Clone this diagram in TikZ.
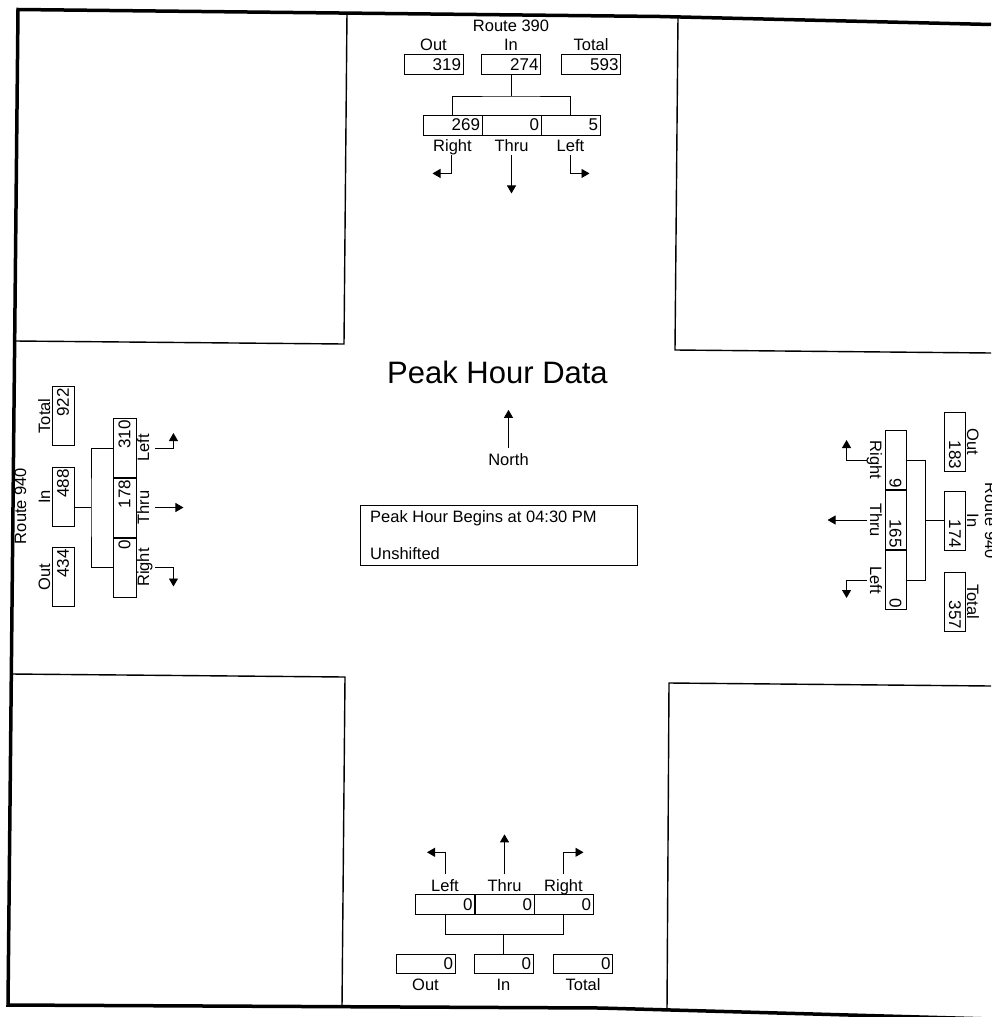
\documentclass[tikz,border=0pt]{standalone}
\usepackage{fontspec}
\setmainfont{Liberation Sans}
\usetikzlibrary{arrows.meta}
\tikzset{
  lbl/.style={inner sep=0pt, font=\fontsize{16.5}{18}\selectfont},
  valbox/.style={draw, line width=0.9pt, minimum height=20pt, text width=55pt, inner xsep=2pt, inner ysep=0pt, align=right, font=\fontsize{17}{18}\selectfont},
  conn/.style={line width=0.9pt},
  arr/.style={line width=0.9pt, -{Triangle[length=8pt,width=9pt]}},
  quad/.style={line width=1.4pt},
  frameline/.style={line width=3.5pt, line join=miter},
}
\begin{document}
\begin{tikzpicture}[x=1pt,y=-1pt]
\useasboundingbox (0,0) rectangle (991,1017);
\fill[white] (0,0) rectangle (991,1017);
\clip (0,0) rectangle (991,1017);

% outer frame
\draw[frameline] (991,24.5) -- (660,16.5) -- (18,9.5) -- (8,1005) -- (600,1008) -- (991,1019);

% quadrant blocks
\draw[quad] (347,12) -- (344,344) -- (15,341);
\draw[quad] (678,16.5) -- (675,350) -- (991,353);
\draw[quad] (11,674) -- (345,677) -- (342,1007);
\draw[quad] (991,686) -- (669,683) -- (667,1011);

% ---------- top (Route 390) ----------
\node[lbl, anchor=base] (t_route) at (511,31) {Route 390};
\node[valbox, minimum height=19.5pt] (t_out) at (433.5,64.5) {319};
\node[valbox, minimum height=19.5pt] (t_in) at (511,64.5) {274};
\node[valbox, minimum height=19.5pt] (t_tot) at (591,64.5) {593};
\node[lbl, anchor=base] (t_outl) at (433.5,50) {Out};
\node[lbl, anchor=base] (t_inl) at (511,50) {In};
\node[lbl, anchor=base] (t_totl) at (591,50) {Total};
\node[valbox] (t_r) at (452.5,125) {269};
\node[valbox] (t_t) at (511.5,125) {0};
\node[valbox] (t_l) at (570.5,125) {5};
\node[lbl, anchor=base] (t_rl) at (452.5,151) {Right};
\node[lbl, anchor=base] (t_tl) at (511.5,151) {Thru};
\node[lbl, anchor=base] (t_ll) at (570.5,151) {Left};
\coordinate (t_br) at (511,96);
\draw[conn] (t_in.south) -- (t_br);
\draw[conn] (t_r.north) |- (t_br) -| (t_l.north);
\draw[arr] (t_r.south) ++(-1,20) -- ++(0,18) -- ++(-19,0);
\draw[arr] (t_t.south) ++(0,20) -- ++(0,38);
\draw[arr] (t_l.south) ++(0,20) -- ++(0,18) -- ++(19,0);

% ---------- bottom ----------
\node[valbox, minimum height=19.5pt] (b_l) at (445,904.5) {0};
\node[valbox, minimum height=19.5pt] (b_t) at (504.5,904.5) {0};
\node[valbox, minimum height=19.5pt] (b_r) at (563.5,904.5) {0};
\node[lbl, anchor=base] (b_ll) at (445,891) {Left};
\node[lbl, anchor=base] (b_tl) at (504.5,891) {Thru};
\node[lbl, anchor=base] (b_rl) at (563.5,891) {Right};
\node[valbox, minimum height=19pt] (b_out) at (425.5,964) {0};
\node[valbox, minimum height=19pt] (b_in) at (503.5,964) {0};
\node[valbox, minimum height=19pt] (b_tot) at (583,964) {0};
\node[lbl, anchor=base] (b_outl) at (425.5,990) {Out};
\node[lbl, anchor=base] (b_inl) at (503.5,990) {In};
\node[lbl, anchor=base] (b_totl) at (583,990) {Total};
\coordinate (b_br) at (503.5,934);
\draw[conn] (b_in.north) -- (b_br);
\draw[conn] (b_l.south) |- (b_br) -| (b_r.south);
\draw[arr] (b_l.north) ++(0,-20) -- ++(0,-22) -- ++(-18,0);
\draw[arr] (b_t.north) ++(0,-20) -- ++(0,-40);
\draw[arr] (b_r.north) ++(0,-20) -- ++(0,-22) -- ++(20,0);

% ---------- left (Route 940) ----------
\node[lbl, anchor=base, rotate=90] (l_route) at (26,506) {Route 940};
\node[valbox, rotate=90, minimum height=22pt] (l_tot) at (63,416) {922};
\node[valbox, rotate=90, minimum height=22pt] (l_in) at (63,497) {488};
\node[valbox, rotate=90, minimum height=22pt] (l_out) at (63,577) {434};
\node[lbl, anchor=base, rotate=90] (l_totl) at (50,416) {Total};
\node[lbl, anchor=base, rotate=90] (l_inl) at (50,497) {In};
\node[lbl, anchor=base, rotate=90] (l_outl) at (50,577) {Out};
\node[valbox, rotate=90, minimum height=23pt] (l_l) at (124.5,448) {310};
\node[valbox, rotate=90, minimum height=23pt] (l_t) at (124.5,507.5) {178};
\node[valbox, rotate=90, minimum height=23pt] (l_r) at (124.5,567.5) {0};
\node[lbl, anchor=base, rotate=90] (l_ll) at (149,448) {Left};
\node[lbl, anchor=base, rotate=90] (l_tl) at (149,507.5) {Thru};
\node[lbl, anchor=base, rotate=90] (l_rl) at (149,567.5) {Right};
\coordinate (l_br) at (91,507);
\draw[conn] (l_in.south |- l_br) -- (l_br);
\draw[conn] (l_l.north) -| (l_br) |- (l_r.north);
\draw[arr] (l_l.south) ++(19,0) -- ++(18,0) -- ++(0,-15);
\draw[arr] (l_t.south) ++(19,0) -- ++(28,0);
\draw[arr] (l_r.south) ++(19,0) -- ++(18,0) -- ++(0,19);

% ---------- right (Route 940) ----------
\node[lbl, anchor=base, rotate=-90] (r_route) at (985,520.5) {Route 940};
\node[valbox, rotate=-90, minimum height=20.5pt] (r_out) at (955,441.5) {183};
\node[valbox, rotate=-90, minimum height=20.5pt] (r_in) at (955,520.5) {174};
\node[valbox, rotate=-90, minimum height=20.5pt] (r_tot) at (955,601.5) {357};
\node[lbl, anchor=base, rotate=-90] (r_outl) at (967,441.5) {Out};
\node[lbl, anchor=base, rotate=-90] (r_inl) at (967,520.5) {In};
\node[lbl, anchor=base, rotate=-90] (r_totl) at (967,601.5) {Total};
\node[valbox, rotate=-90, minimum height=21pt] (r_r) at (895.5,460) {9};
\node[valbox, rotate=-90, minimum height=21pt] (r_t) at (895.5,520) {165};
\node[valbox, rotate=-90, minimum height=21pt] (r_l) at (895.5,580) {0};
\node[lbl, anchor=base, rotate=-90] (r_rl) at (870,460) {Right};
\node[lbl, anchor=base, rotate=-90] (r_tl) at (870,520) {Thru};
\node[lbl, anchor=base, rotate=-90] (r_ll) at (870,580) {Left};
\coordinate (r_br) at (925,520.5);
\draw[conn] (r_in.south) -- (r_br);
\draw[conn] (r_r.north) -| (r_br) |- (r_l.north);
\draw[arr] (r_r.south) ++(-18,0) -- ++(-20,0) -- ++(0,-20);
\draw[arr] (r_t.south) ++(-18,0) -- ++(-39,0);
\draw[arr] (r_l.south) ++(-18,0) -- ++(-20,0) -- ++(0,18);

% ---------- centre ----------
\node[lbl, anchor=base, font=\fontsize{31}{34}\selectfont] (title) at (497.5,383) {Peak Hour Data};
\node[lbl, anchor=base] (north) at (508.5,465) {North};
\draw[arr] (north.north) ++(0,-5) -- ++(0,-38);
\node[draw, line width=0.9pt, minimum width=277pt, minimum height=60pt, anchor=north west, inner sep=0pt] (info) at (360,505) {};
\node[lbl, anchor=base west] (info1) at (370,522) {Peak Hour Begins at 04:30 PM};
\node[lbl, anchor=base west] (info2) at (370,559) {Unshifted};
\end{tikzpicture}
\end{document}
